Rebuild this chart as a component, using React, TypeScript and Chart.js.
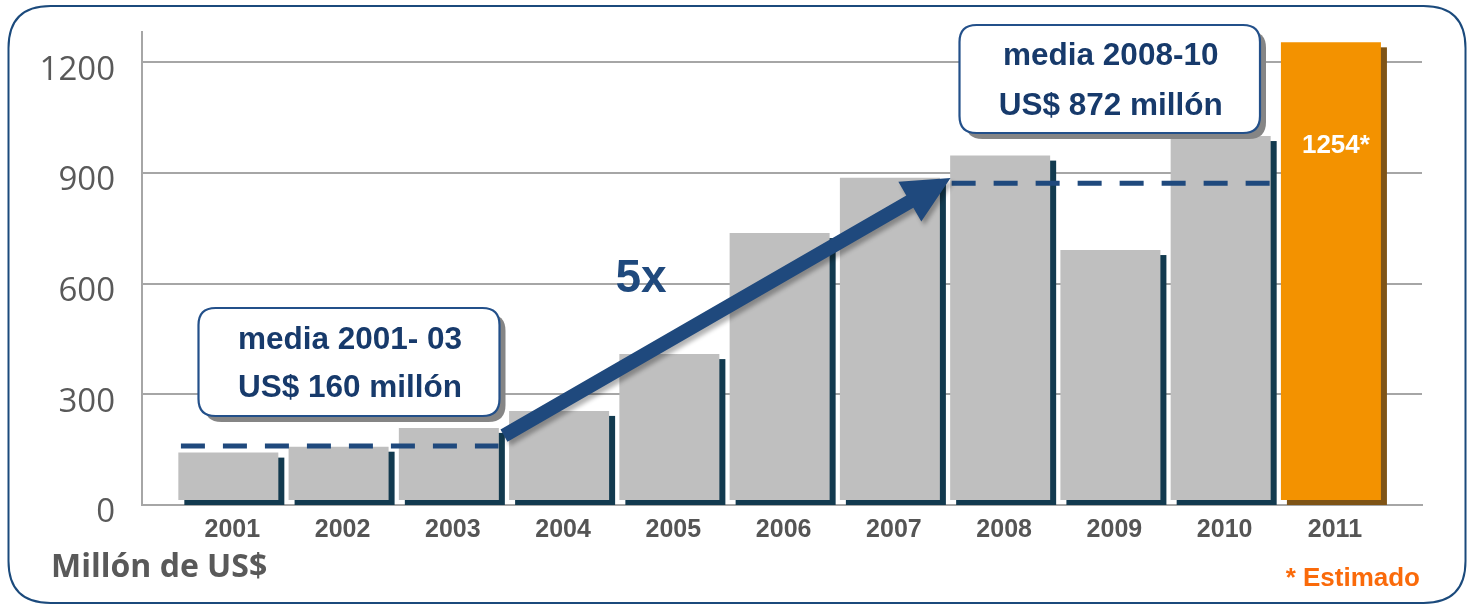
import { useEffect, useRef } from 'react';
import { Chart, registerables } from 'chart.js';

Chart.register(...registerables);

// ---- data ----
const years = ['2001', '2002', '2003', '2004', '2005', '2006', '2007', '2008', '2009', '2010', '2011'];
const values = [142, 158, 209, 255, 409, 737, 887, 947, 691, 1000, 1254];
const estimatedIndex = 10;
const yTicks = [0, 300, 600, 900, 1200];
const avgValues = [160, 872];
const avgRanges = [[-0.43, 2.45], [6.56, 9.45]];
const avgBoxLines = [
  ['media 2001- 03', 'US$ 160 millón'],
  ['media 2008-10', 'US$ 872 millón'],
];
const growthLabel = '5x';
const unitLabel = 'Millón de US$';
const noteLabel = '* Estimado';

// ---- styles ----
const GREY = '#bfbfbf';
const ORANGE = '#f39200';
const GREY_SHADOW = '#123a4f';
const ORANGE_SHADOW = '#7f5416';
const NAVY = '#1f497d';
const TEXT_NAVY = '#173a6b';
const AXIS_GREY = '#a6a6a6';
const ARIAL = "Arial, 'Liberation Sans', sans-serif";
const OPEN = "'Open Sans', 'Noto Sans', sans-serif";

function roundRectPath(ctx: CanvasRenderingContext2D, x: number, y: number, w: number, h: number, r: number) {
  ctx.beginPath();
  ctx.moveTo(x + r, y);
  ctx.lineTo(x + w - r, y);
  ctx.quadraticCurveTo(x + w, y, x + w, y + r);
  ctx.lineTo(x + w, y + h - r);
  ctx.quadraticCurveTo(x + w, y + h, x + w - r, y + h);
  ctx.lineTo(x + r, y + h);
  ctx.quadraticCurveTo(x, y + h, x, y + h - r);
  ctx.lineTo(x, y + r);
  ctx.quadraticCurveTo(x, y, x + r, y);
  ctx.closePath();
}

function drawBox(ctx: CanvasRenderingContext2D, x: number, y: number, w: number, h: number, lines: string[], b1: number, b2: number) {
  ctx.save();
  roundRectPath(ctx, x + 6, y + 6, w, h, 17);
  ctx.fillStyle = '#858585';
  ctx.fill();
  roundRectPath(ctx, x, y, w, h, 17);
  ctx.fillStyle = '#ffffff';
  ctx.fill();
  ctx.lineWidth = 2.2;
  ctx.strokeStyle = '#23508a';
  ctx.stroke();
  ctx.fillStyle = TEXT_NAVY;
  ctx.font = `bold 31.5px ${ARIAL}`;
  ctx.textAlign = 'center';
  ctx.textBaseline = 'alphabetic';
  ctx.fillText(lines[0], x + w / 2 + 1, y + b1);
  ctx.fillText(lines[1], x + w / 2 + 1, y + b2);
  ctx.restore();
}

const decorPlugin = {
  id: 'decor',
  beforeDraw(chart: any) {
    const ctx: CanvasRenderingContext2D = chart.ctx;
    ctx.save();
    ctx.fillStyle = '#ffffff';
    ctx.fillRect(0, 0, chart.width, chart.height);
    roundRectPath(ctx, 8.5, 6, 1457, 597, 42);
    ctx.lineWidth = 2;
    ctx.strokeStyle = '#1b4a7c';
    ctx.stroke();
    ctx.restore();
  },
  beforeDatasetsDraw(chart: any) {
    const ctx: CanvasRenderingContext2D = chart.ctx;
    const meta = chart.getDatasetMeta(0);
    const y0 = chart.scales.y.getPixelForValue(0);
    ctx.save();
    meta.data.forEach((el: any, i: number) => {
      const { x, y, width } = el.getProps(['x', 'y', 'width'], true);
      ctx.fillStyle = i === estimatedIndex ? ORANGE_SHADOW : GREY_SHADOW;
      ctx.fillRect(x - width / 2 + 6, y + 5, width, y0 - y - 5);
    });
    ctx.restore();
  },
  afterDatasetsDraw(chart: any) {
    const ctx: CanvasRenderingContext2D = chart.ctx;
    const xs = chart.scales.x;
    const ys = chart.scales.y;
    const meta = chart.getDatasetMeta(0);

    // estimated value label
    const est = meta.data[estimatedIndex];
    if (est) {
      ctx.save();
      ctx.fillStyle = '#ffffff';
      ctx.font = `bold 26px ${ARIAL}`;
      ctx.textAlign = 'center';
      ctx.textBaseline = 'alphabetic';
      ctx.fillText(`${values[estimatedIndex]}*`, est.x + 5, est.y + 111);
      ctx.restore();
    }

    // dashed average lines
    ctx.save();
    ctx.strokeStyle = NAVY;
    ctx.lineWidth = 5;
    ctx.setLineDash([24, 18]);
    avgValues.forEach((v, i) => {
      const y = ys.getPixelForValue(v);
      ctx.beginPath();
      ctx.moveTo(xs.getPixelForValue(avgRanges[i][0]), y);
      ctx.lineTo(xs.getPixelForValue(avgRanges[i][1]), y);
      ctx.stroke();
    });
    ctx.restore();

    // arrow
    const tx = xs.getPixelForValue(2.5), ty = ys.getPixelForValue(188);
    const hx = xs.getPixelForValue(6.55), hy = ys.getPixelForValue(886);
    const dx = hx - tx, dy = hy - ty;
    const len = Math.hypot(dx, dy);
    const ux = dx / len, uy = dy / len;
    const px = -uy, py = ux;
    const sw = 7, hl = 47, hw = 23;
    const bx = hx - ux * hl, by = hy - uy * hl;
    ctx.save();
    ctx.shadowColor = 'rgba(0,0,0,0.3)';
    ctx.shadowOffsetX = 3;
    ctx.shadowOffsetY = 4;
    ctx.shadowBlur = 4;
    ctx.fillStyle = NAVY;
    ctx.beginPath();
    ctx.moveTo(tx + px * sw, ty + py * sw);
    ctx.lineTo(bx + px * sw, by + py * sw);
    ctx.lineTo(bx + px * hw, by + py * hw);
    ctx.lineTo(hx, hy);
    ctx.lineTo(bx - px * hw, by - py * hw);
    ctx.lineTo(bx - px * sw, by - py * sw);
    ctx.lineTo(tx - px * sw, ty - py * sw);
    ctx.closePath();
    ctx.fill();
    ctx.restore();

    // 5x
    ctx.save();
    ctx.fillStyle = NAVY;
    ctx.font = `bold 46px ${ARIAL}`;
    ctx.textAlign = 'center';
    ctx.textBaseline = 'alphabetic';
    ctx.fillText(growthLabel, 641, 292);
    ctx.restore();

    // boxes
    drawBox(ctx, 198.5, 308, 301, 108, avgBoxLines[0], 40.5, 89);
    drawBox(ctx, 959.5, 25, 300.5, 108, avgBoxLines[1], 39.5, 90);

    // unit label and note
    ctx.save();
    ctx.fillStyle = '#595959';
    ctx.font = `bold 32px ${OPEN}`;
    ctx.textAlign = 'left';
    ctx.textBaseline = 'alphabetic';
    ctx.fillText(unitLabel, 51, 577);
    ctx.fillStyle = '#fa6a0a';
    ctx.font = `bold 26px ${ARIAL}`;
    ctx.textAlign = 'right';
    ctx.fillText(noteLabel, 1420, 586);
    ctx.restore();
  },
};

export default function App() {
  const ref = useRef<HTMLCanvasElement | null>(null);

  useEffect(() => {
    if (!ref.current) return;
    const chart = new Chart(ref.current, {
      type: 'bar',
      data: {
        datasets: [
          {
            data: values.map((v, i) => ({ x: i, y: v })),
            backgroundColor: values.map((_, i) => (i === estimatedIndex ? ORANGE : GREY)),
            base: 13.5,
            barPercentage: 0.907,
            categoryPercentage: 1,
          } as any,
        ],
      },
      options: {
        responsive: false,
        animation: false,
        devicePixelRatio: 1,
        layout: { padding: { left: 32, right: 46, top: 32, bottom: 0 } },
        plugins: { legend: { display: false }, tooltip: { enabled: false } },
        scales: {
          x: {
            type: 'linear',
            offset: false,
            min: -0.783,
            max: 10.826,
            afterBuildTicks: (axis: any) => {
              axis.ticks = years.map((_, i) => ({ value: i }));
            },
            afterFit: (axis: any) => {
              axis.height = 101;
              axis.paddingLeft = 0;
              axis.paddingRight = 0;
            },
            grid: { display: false, drawTicks: false },
            border: { display: true, color: AXIS_GREY, width: 2 },
            ticks: {
              autoSkip: false,
              maxRotation: 0,
              padding: 10,
              labelOffset: 4,
              color: '#555555',
              font: { family: ARIAL, weight: 'bold', size: 25 },
              callback: (_v: any, i: number) => years[i],
            },
          },
          y: {
            min: 0,
            max: 1282,
            afterBuildTicks: (axis: any) => {
              axis.ticks = yTicks.map((v) => ({ value: v }));
            },
            afterFit: (axis: any) => {
              axis.width = 110;
              axis.paddingTop = 0;
              axis.paddingBottom = 0;
            },
            grid: { color: AXIS_GREY, lineWidth: 2, drawTicks: false },
            border: { display: true, color: AXIS_GREY, width: 2 },
            ticks: {
              padding: 27,
              labelOffset: 8,
              color: '#595959',
              font: { family: OPEN, size: 33 },
              callback: (v: any) => String(v),
            },
          },
        },
      } as any,
      plugins: [decorPlugin],
    });
    return () => chart.destroy();
  }, []);

  return (
    <div style={{ position: 'fixed', left: 0, top: 0, width: 1468, height: 606 }}>
      <canvas ref={ref} width={1468} height={606} style={{ display: 'block' }} />
    </div>
  );
}
